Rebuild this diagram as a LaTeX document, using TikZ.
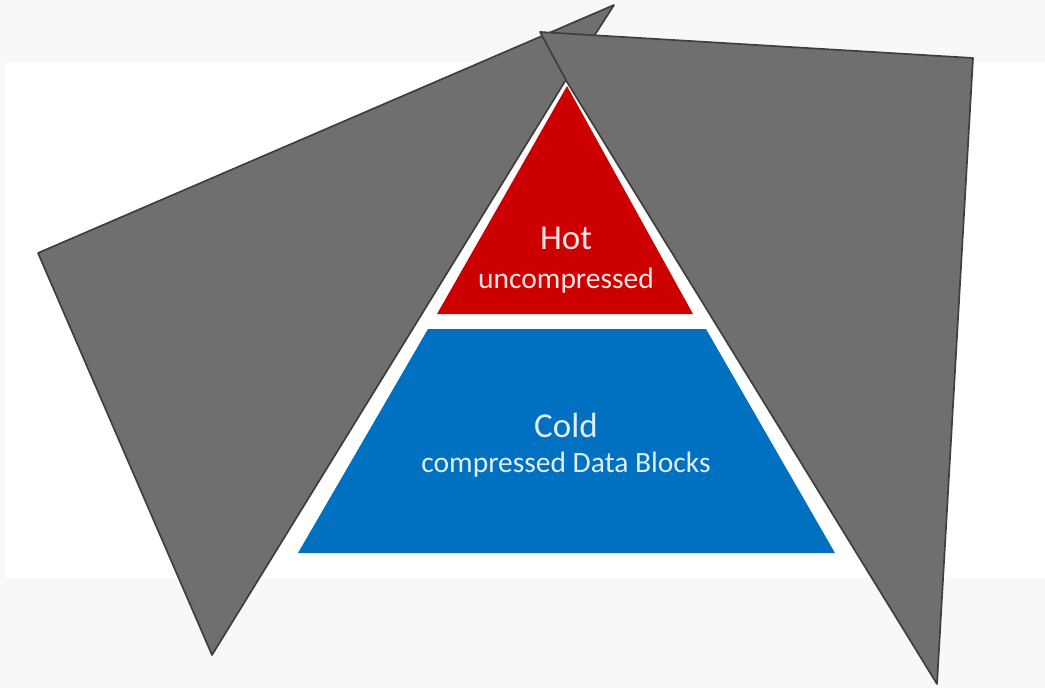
\documentclass[tikz,border=0pt]{standalone}
\usepackage{fontspec}
\setmainfont{Carlito}
\definecolor{rojo}{HTML}{CC0000}
\definecolor{azul}{HTML}{0070C0}
\definecolor{gris}{HTML}{6F6F6F}
\definecolor{borde}{HTML}{3F3F3F}
\definecolor{fondo}{HTML}{F8F8F8}
\begin{document}
\begin{tikzpicture}[x=1pt,y=-1pt,
  tapa/.style={fill=gris,draw=borde,line width=1.7pt,line join=round},
  titulo/.style={font=\fontsize{35}{37}\selectfont},
  subtitulo/.style={font=\fontsize{29.5}{31}\selectfont}]
% Fondo gris claro y la hoja blanca encima
\useasboundingbox (0,0) rectangle (1045,688);
\fill[fondo] (0,0) rectangle (1045,688);
\fill[white] (5,63) rectangle (1045,578);

% La piramide: arriba lo caliente, abajo lo frio
\fill[rojo] (567,86) -- (693,314) -- (437,314) -- cycle;
\fill[azul] (428,329) -- (706,329) -- (835,553) -- (298,553) -- cycle;
\node[titulo, text=white!90!rojo] (hot) at (566,238) {Hot};
\node[subtitulo, text=white!90!rojo] (hotsub) at (566,281) {uncompressed};
\node[titulo, text=white!88!azul] (cold) at (566,425) {Cold};
\node[subtitulo, text=white!88!azul] (coldsub) at (566,465) {compressed Data Blocks};

% Las dos tapas grises; la de la derecha queda encima
\draw[tapa] (614,5) -- (38,253) -- (212,655) -- (564,83) -- cycle;
\draw[tapa] (540,32) -- (973,58) -- (937,684) -- (567,82) -- cycle;
\end{tikzpicture}
\end{document}
